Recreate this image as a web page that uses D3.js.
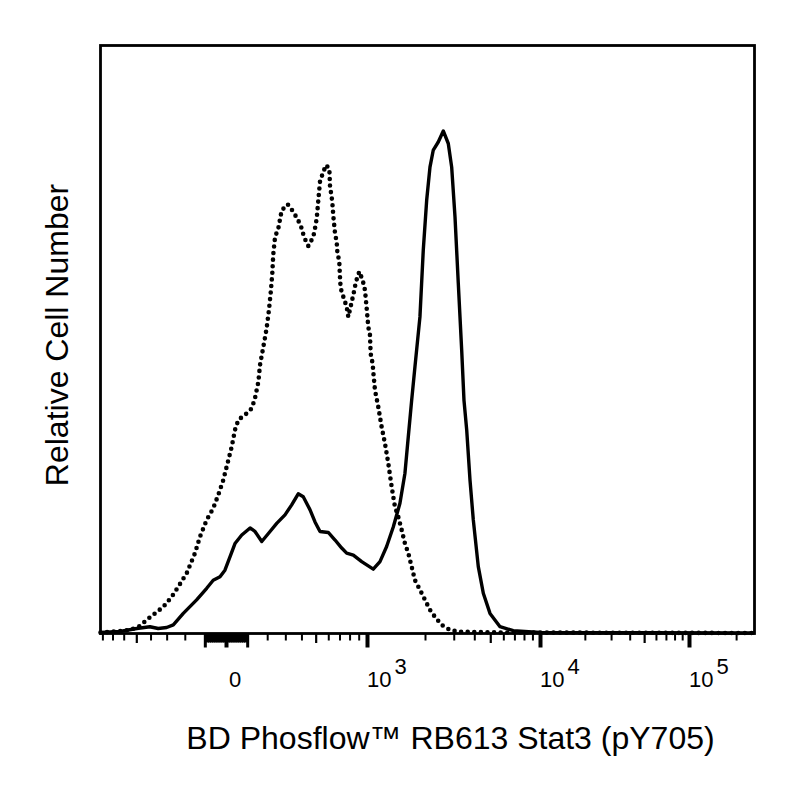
<!DOCTYPE html>
<html>
<head>
<meta charset="utf-8">
<script src="https://cdn.jsdelivr.net/npm/d3@7"></script>
<style>
  body { margin: 0; background: #fff; }
  text { font-family: "Liberation Sans", Arial, sans-serif; fill: #000; }
</style>
</head>
<body>
<div id="d3-object"></div>
<script>
// Histogram data: fluorescence intensity (x) and relative count (% of max, y)
var stimX = [-820, -632, -497, -404, -351, -300, -262, -208, -140, -91, -60, -28, -5, 19, 42, 74, 114, 138, 172, 215, 251, 298, 338, 379, 412, 459, 495, 533, 600, 659, 721, 770, 840, 935, 1080, 1172, 1270, 1375, 1489, 1580, 1643, 1710, 1778, 1885, 1960, 2048, 2146, 2249, 2413, 2590, 2778, 2914, 3053, 3197, 3353, 3463, 3597, 3767, 3945, 4230, 4537, 4982, 5728, 6896, 10000, 262144];
var stimY = [0.2, 0.4, 1.0, 1.35, 1.0, 1.2, 1.7, 4.0, 6.7, 9.0, 10.6, 11.3, 12.6, 15.3, 17.9, 19.6, 21.0, 20.3, 18.3, 20.3, 21.9, 23.6, 25.6, 27.8, 27.2, 24.6, 22.2, 20.3, 20.1, 18.6, 17.0, 16.0, 15.6, 14.3, 12.8, 14.3, 17.3, 21.2, 25.9, 31.9, 39.1, 46.4, 53.1, 63.0, 76.3, 86.2, 92.8, 96.2, 97.8, 100, 97.5, 92.8, 82.9, 69.7, 56.4, 46.4, 40.5, 30.5, 22.6, 13.3, 8.0, 4.0, 1.35, 0.56, 0.2, 0.1];

var unstimX = [-820, -724, -549, -473, -426, -371, -320, -271, -235, -190, -148, -123, -91, -60, -36, -13, 11, 27, 42, 58, 98, 122, 138, 155, 163, 180, 197, 209, 219, 227, 232, 242, 260, 279, 314, 348, 379, 402, 417, 447, 482, 495, 508, 520, 533, 554, 581, 609, 615, 629, 638, 643, 659, 674, 680, 698, 705, 711, 737, 770, 787, 823, 847, 869, 907, 947, 975, 996, 1016, 1037, 1046, 1072, 1080, 1103, 1148, 1196, 1245, 1295, 1349, 1403, 1460, 1520, 1580, 1643, 1710, 1778, 1885, 1999, 2146, 2303, 2532, 2846, 3197, 5728, 262144];
var unstimY = [0.2, 0.3, 0.7, 1.5, 2.7, 4.0, 5.3, 7.3, 9.3, 12.0, 16.0, 19.3, 22.6, 24.9, 27.6, 30.5, 34.5, 37.2, 40.5, 42.5, 43.8, 44.8, 46.8, 50.1, 53.4, 57.0, 60.7, 64.3, 68.0, 71.6, 75.3, 78.9, 80.6, 84.2, 85.4, 83.9, 82.2, 80.6, 78.9, 77.1, 78.9, 80.6, 82.6, 86.2, 89.9, 91.5, 93.2, 92.5, 88.9, 86.9, 84.9, 83.2, 79.6, 77.9, 75.9, 74.0, 70.7, 68.7, 67.0, 65.0, 63.0, 66.0, 68.0, 70.0, 72.0, 70.3, 68.3, 64.7, 61.0, 59.4, 55.7, 53.7, 52.1, 48.4, 45.1, 41.1, 37.8, 33.9, 29.2, 25.2, 23.2, 20.6, 17.9, 16.0, 13.3, 10.6, 8.7, 6.7, 4.7, 3.3, 1.7, 0.7, 0.36, 0.2, 0.1];

// Axis ticks
var majorTicks = [0, 1000, 10000, 100000];
var tallTicks = [-100, 100];
var midTicks = [-500, 500, 5000, 50000];
var nearZeroTicks = [-90, -80, -70, -60, -50, -40, -30, -20, -10, 10, 20, 30, 40, 50, 60, 70, 80, 90];
var minorTicks = [-800, -700, -600, -400, -300, -200,
    200, 300, 400, 600, 700, 800, 900,
    2000, 3000, 4000, 6000, 7000, 8000, 9000,
    20000, 30000, 40000, 60000, 70000, 80000, 90000, 200000];
var tickLabels = [
    { value: 0, base: "0", exp: "" },
    { value: 1000, base: "10", exp: "3" },
    { value: 10000, base: "10", exp: "4" },
    { value: 100000, base: "10", exp: "5" }
];
var xTitle = "BD Phosflow\u2122 RB613 Stat3 (pY705)";
var yTitle = "Relative Cell Number";

var margin = { top: 45.5, right: 45.5, bottom: 166.5, left: 100.5 },
    width = 800 - margin.left - margin.right,
    height = 800 - margin.top - margin.bottom;

var svg = d3.select("#d3-object")
    .append("svg")
    .attr("width", 800)
    .attr("height", 800)
    .append("g")
    .attr("transform", "translate(" + margin.left + "," + margin.top + ")");

// biexponential-like display: arcsinh transform, then piecewise linear
function T(v) { return Math.asinh(v / 400); }

var xT = d3.scaleLinear()
    .domain([T(-820), T(0), T(1000), T(2000), T(10000), T(100000), T(262144)])
    .range([0, 125.5, 266.5, 324.5, 439.5, 588.5, width]);
var x = function (v) { return xT(T(v)); };
x.copy = function () { return x; };
x.range = function () { return [0, width]; };
x.domain = function () { return [-820, 262144]; };

var y = d3.scaleLinear().domain([0, 117]).range([height, 0]);

function addTicks(values, size, sw) {
    var g = svg.append("g")
        .attr("transform", "translate(0," + height + ")")
        .call(d3.axisBottom(x).tickValues(values).tickSize(size).tickFormat(""));
    g.select(".domain").remove();
    g.selectAll("line").attr("stroke", "#000").attr("stroke-width", sw);
}
addTicks(minorTicks, 7, 2);
addTicks(nearZeroTicks, 9, 3);
addTicks(midTicks, 9.5, 2.2);
addTicks(tallTicks, 14, 3);
addTicks(majorTicks, 14, 4);

// tick labels
var lab = svg.selectAll(".tick-label")
    .data(tickLabels)
    .enter()
    .append("text")
    .attr("class", "tick-label")
    .attr("x", function (d) { return x(d.value) + (d.exp ? 0 : 3); })
    .attr("y", height + 53)
    .attr("font-size", "22px")
    .text(function (d) { return d.base; });
lab.append("tspan")
    .attr("dx", 3)
    .attr("dy", -13)
    .text(function (d) { return d.exp; });

// curves
var line = d3.line()
    .x(function (d) { return x(d[0]); })
    .y(function (d) { return y(d[1]); });

svg.append("path")
    .datum(d3.zip(unstimX, unstimY))
    .attr("fill", "none")
    .attr("stroke", "#000")
    .attr("stroke-width", 4.6)
    .attr("stroke-linecap", "round")
    .attr("stroke-dasharray", "0 6.6")
    .attr("d", line);

svg.append("path")
    .datum(d3.zip(stimX, stimY))
    .attr("fill", "none")
    .attr("stroke", "#000")
    .attr("stroke-width", 3.4)
    .attr("stroke-linejoin", "round")
    .attr("d", line);

// frame
svg.append("rect")
    .attr("x", 0)
    .attr("y", 0)
    .attr("width", width)
    .attr("height", height)
    .attr("fill", "none")
    .attr("stroke", "#000")
    .attr("stroke-width", 2.8);

// axis titles
svg.append("text")
    .attr("x", 350)
    .attr("y", height + 115)
    .attr("text-anchor", "middle")
    .attr("font-size", "32px")
    .text(xTitle);

svg.append("text")
    .attr("transform", "translate(-32.5," + (335 - margin.top) + ")rotate(-90)")
    .attr("text-anchor", "middle")
    .attr("font-size", "32px")
    .text(yTitle);
</script>
</body>
</html>
